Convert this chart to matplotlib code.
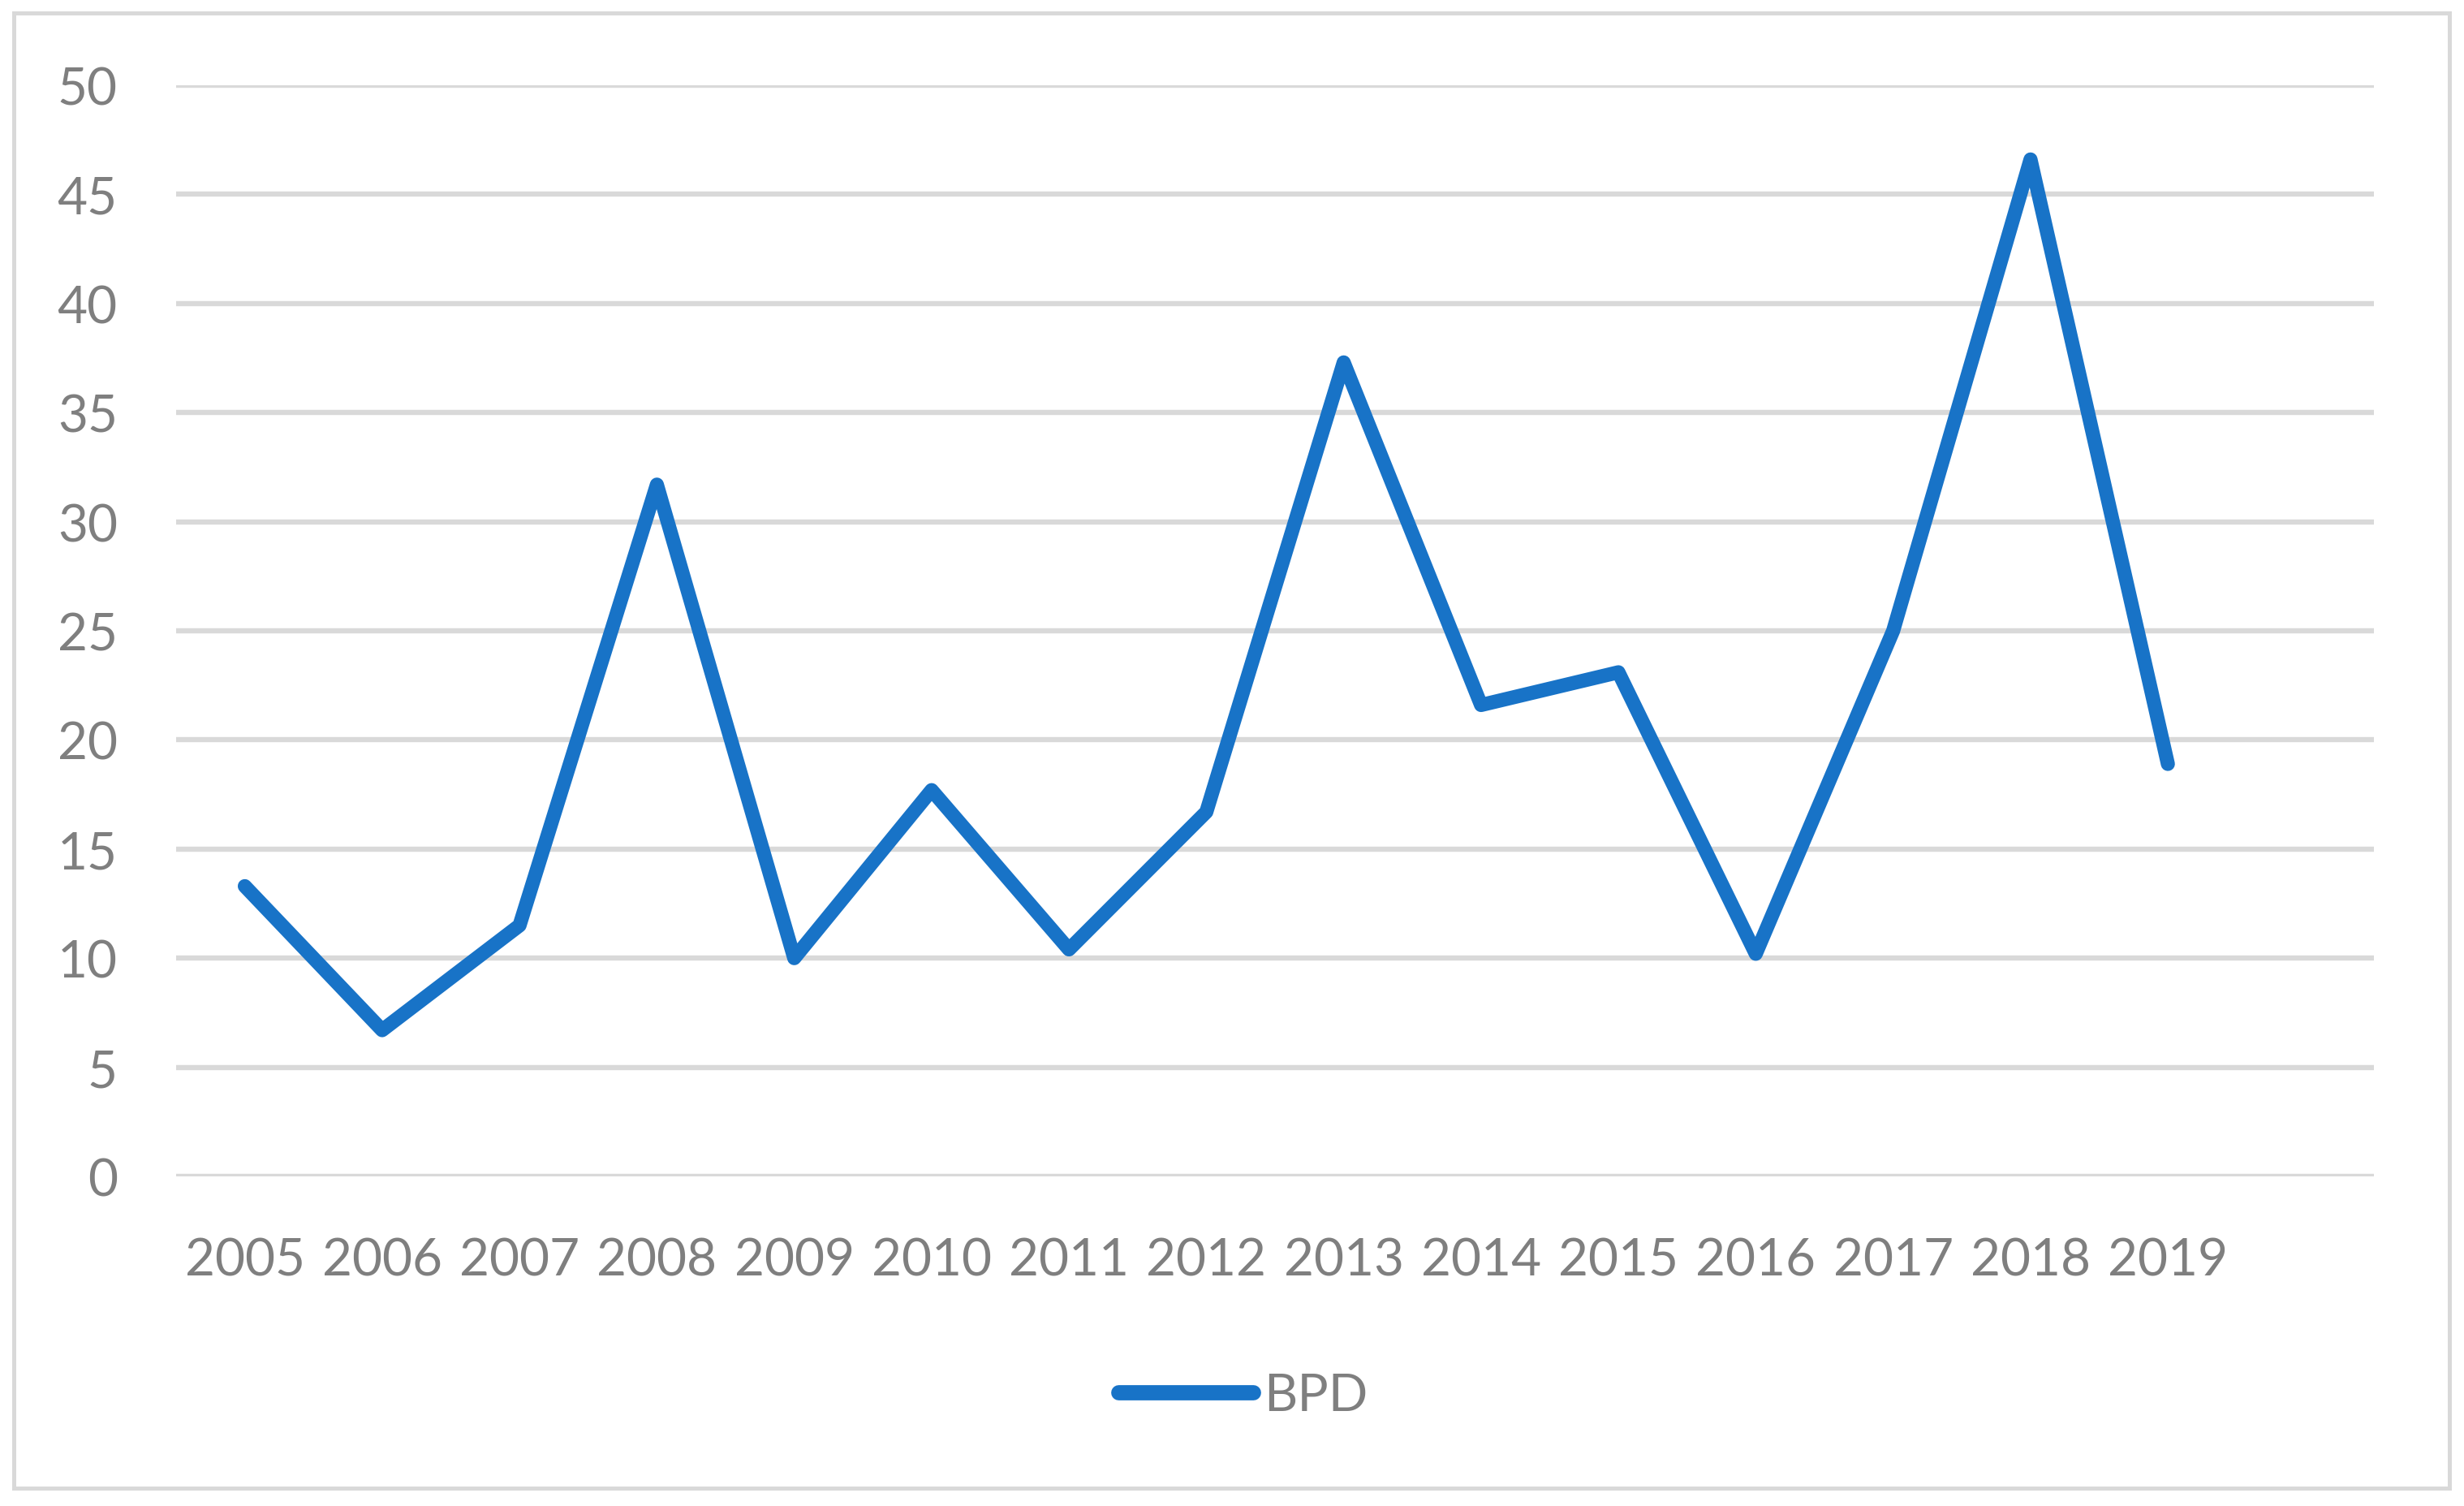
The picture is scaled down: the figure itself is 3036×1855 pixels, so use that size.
import matplotlib
matplotlib.use("Agg")
import matplotlib.pyplot as plt
from matplotlib.patches import Rectangle
from matplotlib.lines import Line2D

years = ["2005", "2006", "2007", "2008", "2009", "2010", "2011", "2012",
         "2013", "2014", "2015", "2016", "2017", "2018", "2019"]
bpd = [13.3, 6.7, 11.5, 31.7, 10.0, 17.7, 10.4, 16.7,
       37.3, 21.6, 23.1, 10.2, 25.0, 46.6, 18.9]
yticks = [0, 5, 10, 15, 20, 25, 30, 35, 40, 45, 50]
series_name = "BPD"

W, H = 3036, 1856
DPI = 100
plt.rcParams['font.family'] = ['Lato', 'DejaVu Sans']

fig = plt.figure(figsize=(W / DPI, H / DPI), dpi=DPI)
fig.patch.set_facecolor('white')

# outer chart border
fig.patches.append(Rectangle((17 / W, 1 - 1834 / H), (3018 - 17) / W, (1834 - 17) / H,
                             transform=fig.transFigure, fill=False,
                             edgecolor='#d9d9d9', linewidth=3.6, zorder=0))

left, right, y0, y50 = 217, 2925, 1450, 106
ax = fig.add_axes([left / W, 1 - y0 / H, (right - left) / W, (y0 - y50) / H])
ax.set_facecolor('none')

x = list(range(len(years)))
line_color = '#1873C7'
ax.plot(x, bpd, color=line_color, linewidth=12.5, solid_capstyle='round',
        solid_joinstyle='round', zorder=3, clip_on=False)

ax.set_xlim(-0.5, len(years) + 0.5)
ax.set_ylim(0, 50)
ax.set_yticks(yticks)
ax.set_xticks(x)
ax.set_xticklabels(years)
for s in ax.spines.values():
    s.set_visible(False)
ax.yaxis.grid(True, color='#d9d9d9', linewidth=4.6)
ax.set_axisbelow(True)
ax.tick_params(axis='both', length=0, labelsize=46, labelcolor='#7f7f7f')
ax.tick_params(axis='y', pad=52)
ax.tick_params(axis='x', pad=54)

handle = Line2D([0], [0], color=line_color, linewidth=13.5, solid_capstyle='round')
leg = fig.legend([handle], [series_name], loc='center',
                 bbox_to_anchor=(1532 / W, 1 - 1720 / H), frameon=False,
                 fontsize=46, handlelength=2.6, handletextpad=0.2,
                 borderpad=0, borderaxespad=0)
for t in leg.get_texts():
    t.set_color('#7f7f7f')

fig.savefig('out.png', dpi=DPI, facecolor='white')
